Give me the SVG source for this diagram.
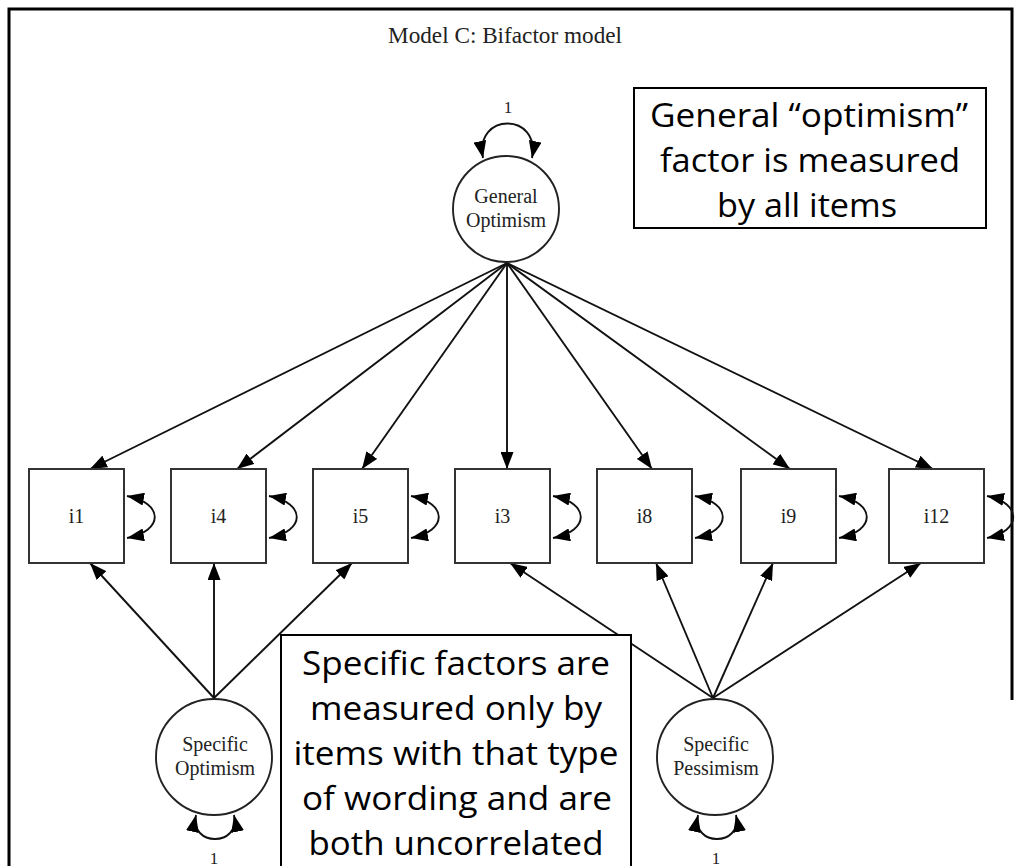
<svg xmlns="http://www.w3.org/2000/svg" width="1021" height="866" viewBox="0 0 1021 866">
<style>
.frame{fill:none;stroke:#000;stroke-width:3}
.edge{fill:none;stroke:#111;stroke-width:1.9}
.loop{fill:none;stroke:#111;stroke-width:1.9}
.box{fill:#fff;stroke:#333;stroke-width:2}
.lat{fill:#fff;stroke:#222;stroke-width:1.9}
.serif{font-family:"Liberation Serif","Times New Roman",serif;fill:#222;text-anchor:middle}
.lbl{font-size:20px}
.one{font-size:17px}
.note{fill:#fff;stroke:#000;stroke-width:2}
.nt{font-family:"Open Sans","Noto Sans","Liberation Sans",sans-serif;font-size:33px;fill:#000;text-anchor:middle}
</style>
<defs>
<marker id="ah" viewBox="0 0 17 13" refX="17" refY="6.5" markerWidth="17" markerHeight="13" markerUnits="userSpaceOnUse" orient="auto-start-reverse">
<path d="M0,0 L17,6.5 L0,13 Z" fill="#000"/>
</marker>
</defs>
<rect width="1021" height="866" fill="#fff"/>
<path class="frame" d="M9,866 L9,9 L1012,9 L1012,700"/>
<text class="serif" x="505" y="43" font-size="23" textLength="234" lengthAdjust="spacingAndGlyphs">Model C: Bifactor model</text>

<g id="connectors">
<line class="edge" x1="507" y1="263" x2="90" y2="469" marker-end="url(#ah)"/>
<line class="edge" x1="507" y1="263" x2="237" y2="469" marker-end="url(#ah)"/>
<line class="edge" x1="507" y1="263" x2="362" y2="469" marker-end="url(#ah)"/>
<line class="edge" x1="507" y1="263" x2="507" y2="469" marker-end="url(#ah)"/>
<line class="edge" x1="507" y1="263" x2="652" y2="469" marker-end="url(#ah)"/>
<line class="edge" x1="507" y1="263" x2="790" y2="469" marker-end="url(#ah)"/>
<line class="edge" x1="507" y1="263" x2="933" y2="469" marker-end="url(#ah)"/>
<line class="edge" x1="214" y1="698" x2="90" y2="563" marker-end="url(#ah)"/>
<line class="edge" x1="214" y1="698" x2="214" y2="563" marker-end="url(#ah)"/>
<line class="edge" x1="214" y1="698" x2="352" y2="563" marker-end="url(#ah)"/>
<line class="edge" x1="713" y1="698" x2="510" y2="563" marker-end="url(#ah)"/>
<line class="edge" x1="713" y1="698" x2="656" y2="563" marker-end="url(#ah)"/>
<line class="edge" x1="713" y1="698" x2="773" y2="563" marker-end="url(#ah)"/>
<line class="edge" x1="713" y1="698" x2="921" y2="563" marker-end="url(#ah)"/>
<path class="loop" d="M483,158 C474,112 541,112 532,158" marker-start="url(#ah)" marker-end="url(#ah)"/>
<path class="loop" d="M196,815 C189,847 241,847 234,815" marker-start="url(#ah)" marker-end="url(#ah)"/>
<path class="loop" d="M698,815 C691,847 743,847 736,815" marker-start="url(#ah)" marker-end="url(#ah)"/>
<path class="loop" d="M127,496 C164,503 164,531 127,538" marker-start="url(#ah)" marker-end="url(#ah)"/>
<path class="loop" d="M269,496 C306,503 306,531 269,538" marker-start="url(#ah)" marker-end="url(#ah)"/>
<path class="loop" d="M411,496 C448,503 448,531 411,538" marker-start="url(#ah)" marker-end="url(#ah)"/>
<path class="loop" d="M553,496 C590,503 590,531 553,538" marker-start="url(#ah)" marker-end="url(#ah)"/>
<path class="loop" d="M695,496 C732,503 732,531 695,538" marker-start="url(#ah)" marker-end="url(#ah)"/>
<path class="loop" d="M839,496 C876,503 876,531 839,538" marker-start="url(#ah)" marker-end="url(#ah)"/>
<path class="loop" d="M987,496 C1022,503 1022,531 987,538" marker-start="url(#ah)" marker-end="url(#ah)"/>
<text class="serif one" x="508" y="113">1</text>
<text class="serif one" x="214" y="864">1</text>
<text class="serif one" x="716" y="864">1</text>
</g>

<g id="general-optimism">
<circle class="lat" cx="506" cy="209" r="53"/>
<text class="serif lbl" x="506" y="203">General</text>
<text class="serif lbl" x="506" y="227">Optimism</text>
</g>
<g id="specific-optimism">
<circle class="lat" cx="214" cy="757" r="58"/>
<text class="serif lbl" x="215" y="751">Specific</text>
<text class="serif lbl" x="215" y="775">Optimism</text>
</g>
<g id="specific-pessimism">
<circle class="lat" cx="715" cy="757" r="58"/>
<text class="serif lbl" x="716" y="751">Specific</text>
<text class="serif lbl" x="716" y="775">Pessimism</text>
</g>

<g id="i1"><rect class="box" x="29" y="469" width="95" height="94"/><text class="serif lbl" x="76.5" y="523">i1</text></g>
<g id="i4"><rect class="box" x="171" y="469" width="95" height="94"/><text class="serif lbl" x="218.5" y="523">i4</text></g>
<g id="i5"><rect class="box" x="313" y="469" width="95" height="94"/><text class="serif lbl" x="360.5" y="523">i5</text></g>
<g id="i3"><rect class="box" x="455" y="469" width="95" height="94"/><text class="serif lbl" x="502.5" y="523">i3</text></g>
<g id="i8"><rect class="box" x="597" y="469" width="95" height="94"/><text class="serif lbl" x="644.5" y="523">i8</text></g>
<g id="i9"><rect class="box" x="741" y="469" width="95" height="94"/><text class="serif lbl" x="788.5" y="523">i9</text></g>
<g id="i12"><rect class="box" x="889" y="469" width="95" height="94"/><text class="serif lbl" x="936.5" y="523">i12</text></g>

<g id="note-general">
<rect class="note" x="634" y="88" width="352" height="140"/>
<text class="nt" x="809" y="127" textLength="318" lengthAdjust="spacingAndGlyphs">General “optimism”</text>
<text class="nt" x="810" y="172" textLength="300" lengthAdjust="spacingAndGlyphs">factor is measured</text>
<text class="nt" x="807" y="217" textLength="180" lengthAdjust="spacingAndGlyphs">by all items</text>
</g>
<g id="note-specific">
<rect class="note" x="281" y="635" width="350" height="232"/>
<text class="nt" x="456" y="675" textLength="308" lengthAdjust="spacingAndGlyphs">Specific factors are</text>
<text class="nt" x="456" y="720" textLength="292" lengthAdjust="spacingAndGlyphs">measured only by</text>
<text class="nt" x="456" y="765" textLength="325" lengthAdjust="spacingAndGlyphs">items with that type</text>
<text class="nt" x="457" y="810" textLength="310" lengthAdjust="spacingAndGlyphs">of wording and are</text>
<text class="nt" x="456" y="855" textLength="295" lengthAdjust="spacingAndGlyphs">both uncorrelated</text>
</g>
</svg>
